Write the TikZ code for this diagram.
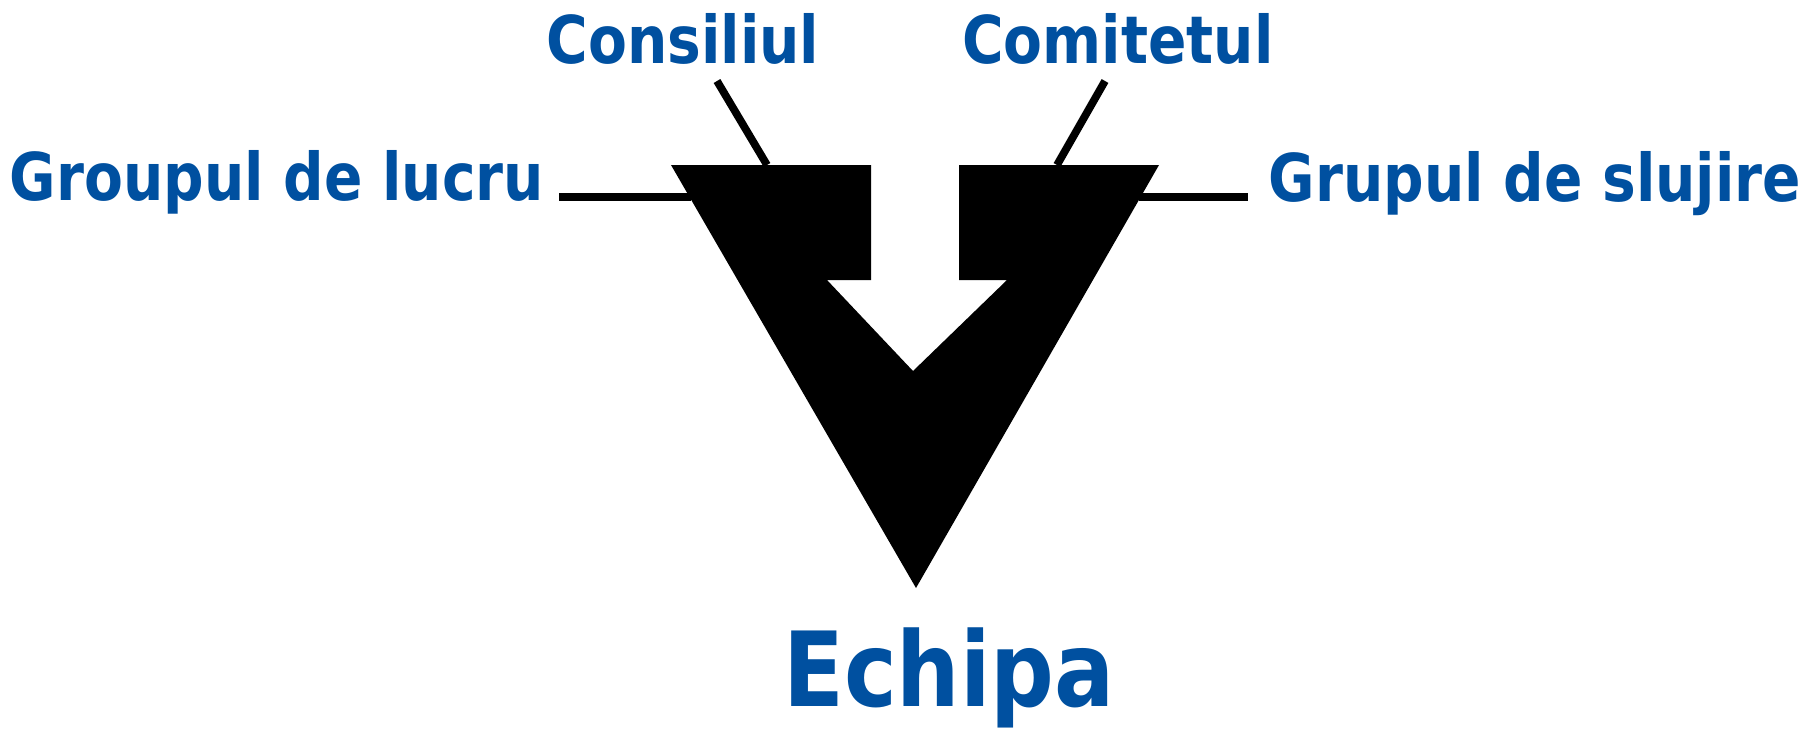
\documentclass[tikz,border=0pt]{standalone}
\usepackage{fontspec}
\usetikzlibrary{positioning}
\newfontfamily\lblfont{DejaVu Sans Bold}[FakeStretch=0.86]
\definecolor{teamblue}{RGB}{0,80,160}
\tikzset{lbl/.style={text=teamblue,font=\lblfont\fontsize{37.5}{40}\selectfont,inner sep=0pt,anchor=base}}
\tikzset{link/.style={draw=black,line width=4.4pt}}

\begin{document}
\begin{tikzpicture}[x=0.02cm,y=-0.02cm]
\useasboundingbox (0,0) rectangle (1808,731);
\node[lbl] (consiliul) at (683,63) {Consiliul};
\node[lbl] (comitetul) at (1118,63) {Comitetul};
\node[lbl] (lucru) at (277,200) {Groupul de lucru};
\node[lbl] (slujire) at (1535,201) {Grupul de slujire};
\node[lbl,font=\lblfont\fontsize{59}{62}\selectfont] (echipa) at (949,706) {Echipa};

% the funnel with the arrow cut out
\coordinate (tl) at (671,165);
\coordinate (tr) at (1159,165);
\coordinate (tip) at (916,588);
\fill[black] (tl) -- (871,165) -- (871,280) -- (827,280) -- (913,371) -- (1007,280)
  -- (959,280) -- (959,165) -- (tr) -- (tip) -- cycle;

\coordinate (cons1) at (717,81);
\coordinate (cons2) at (767,165);
\coordinate (comi1) at (1105,81);
\coordinate (comi2) at (1057,165);
\coordinate (lucru1) at (559,197);
\coordinate (lucru2) at (691,197);
\coordinate (sluj1) at (1139,197);
\coordinate (sluj2) at (1248,197);

\begin{scope}[link]
\draw (cons1) -- (cons2);
\draw (comi1) -- (comi2);
\draw (lucru1) -- (lucru2);
\draw (sluj1) -- (sluj2);
\end{scope}

\end{tikzpicture}
\end{document}
